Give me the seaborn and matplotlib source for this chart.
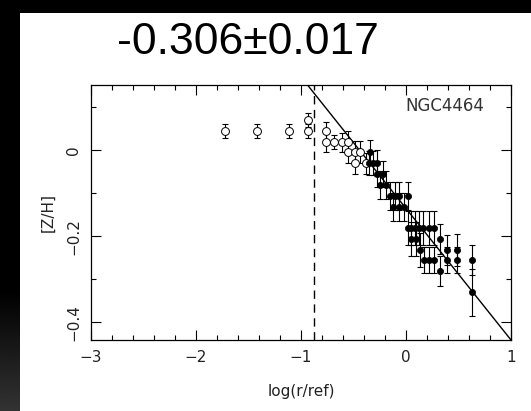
import numpy as np
import pandas as pd
import matplotlib
matplotlib.use("Agg")
import matplotlib.pyplot as plt
from matplotlib.ticker import MultipleLocator
import seaborn as sns

sns.set_style("ticks")
plt.rcParams['font.family'] = ['DejaVu Sans']

# ---- data ----
open_x = [-1.724, -1.419, -1.114, -0.936, -0.936,
          -0.765, -0.765, -0.681, -0.605, -0.548, -0.548,
          -0.486, -0.486, -0.438, -0.381]
open_y = [0.045, 0.045, 0.045, 0.070, 0.045,
          0.045, 0.019, 0.019, 0.019, 0.019, -0.004,
          -0.004, -0.030, -0.004, -0.030]
open_err = [0.016, 0.016, 0.016, 0.016, 0.016,
            0.022, 0.022, 0.016, 0.022, 0.025, 0.025,
            0.025, 0.025, 0.025, 0.025]

filled_x = [-0.343, -0.352, -0.314, -0.276, -0.279, -0.219, -0.248, -0.190,
            -0.152, -0.105, -0.067, 0.019, -0.124, -0.067, -0.019,
            0.019, 0.048, 0.086, 0.124, 0.162, 0.219, 0.267,
            0.048, 0.095, 0.324,
            0.133, 0.390, 0.486,
            0.171, 0.219, 0.267, 0.390, 0.486, 0.629,
            0.324, 0.629]
filled_y = [-0.004, -0.030, -0.030, -0.030, -0.055, -0.055, -0.081, -0.081,
            -0.106, -0.106, -0.106, -0.106, -0.132, -0.132, -0.132,
            -0.181, -0.181, -0.181, -0.181, -0.181, -0.181, -0.181,
            -0.206, -0.206, -0.206,
            -0.232, -0.232, -0.232,
            -0.255, -0.255, -0.255, -0.255, -0.255, -0.255,
            -0.281, -0.330]
filled_err = [0.028, 0.028, 0.028, 0.030, 0.030, 0.030, 0.032, 0.032,
              0.032, 0.032, 0.032, 0.032, 0.032, 0.032, 0.032,
              0.040, 0.040, 0.040, 0.040, 0.040, 0.040, 0.040,
              0.040, 0.040, 0.035,
              0.040, 0.035, 0.037,
              0.030, 0.030, 0.030, 0.030, 0.030, 0.035,
              0.035, 0.055]

slope = -0.306
intercept = -0.135
cut_x = -0.88
title_text = "-0.306\u00b10.017"
galaxy = "NGC4464"

df_open = pd.DataFrame({"x": open_x, "y": open_y, "e": open_err})
df_fill = pd.DataFrame({"x": filled_x, "y": filled_y, "e": filled_err})

W, H = 531, 411
fig = plt.figure(figsize=(W / 100, H / 100), dpi=100)
fig.patch.set_facecolor("white")

# black frame strips
bg = fig.add_axes([0, 0, 20 / W, 1])
grad = np.zeros((411, 1))
rows = np.arange(411)
grad[:, 0] = np.clip((rows - 290) / (411 - 290), 0, 1) * 0.2
bg.imshow(grad, cmap="gray", vmin=0, vmax=1, aspect="auto", origin="upper",
          extent=[0, 1, 0, 1])
bg.set_axis_off()
top = fig.add_axes([0, 1 - 13 / H, 1, 13 / H])
top.set_facecolor("black")
top.set_xticks([]); top.set_yticks([])
for s in top.spines.values():
    s.set_visible(False)

ax = fig.add_axes([91 / W, (H - 340) / H, 420 / W, 255 / H])

ax.errorbar(df_open.x, df_open.y, yerr=df_open.e, fmt="none", ecolor="black",
            elinewidth=0.8, capsize=2.5, capthick=0.8, zorder=2)
ax.errorbar(df_fill.x, df_fill.y, yerr=df_fill.e, fmt="none", ecolor="black",
            elinewidth=0.8, capsize=2.5, capthick=0.8, zorder=2)
sns.scatterplot(data=df_open, x="x", y="y", ax=ax, marker="o", s=32,
                facecolor="white", edgecolor="black", linewidth=0.7, zorder=3)
sns.scatterplot(data=df_fill, x="x", y="y", ax=ax, marker="o", s=20,
                color="black", edgecolor="black", linewidth=0.5, zorder=4)

xl = np.array([-3.0, 1.0])
ax.plot(xl, intercept + slope * xl, color="black", lw=1.0, zorder=1)
ax.axvline(cut_x, color="black", lw=1.0, ls=(0, (6, 4)), zorder=1)

ax.set_xlim(-3, 1)
ax.set_ylim(-0.441, 0.152)
ax.xaxis.set_major_locator(MultipleLocator(1))
ax.xaxis.set_minor_locator(MultipleLocator(0.2))
ax.yaxis.set_major_locator(MultipleLocator(0.2))
ax.yaxis.set_minor_locator(MultipleLocator(0.1))
ax.tick_params(which="both", direction="in", top=True, right=True,
               color="black", width=0.8)
ax.tick_params(which="major", length=7, labelsize=11, labelcolor="#222222", pad=7)
ax.tick_params(which="minor", length=3.5)
ax.yaxis.set_major_formatter(matplotlib.ticker.FuncFormatter(
    lambda v, p: ("\u22120.%d" % round(abs(v) * 10) if v < -1e-9 else "0")))
ax.xaxis.set_major_formatter(matplotlib.ticker.FuncFormatter(
    lambda v, p: ("\u2212%d" % round(abs(v)) if v < -1e-9 else "%d" % round(v))))
for lab in ax.get_yticklabels():
    lab.set_rotation(90)
    lab.set_va("center")
for s in ax.spines.values():
    s.set_linewidth(0.9)
    s.set_color("black")

ax.set_xlabel("log(r/ref)", fontsize=11, color="#222222", labelpad=14)
ax.set_ylabel("[Z/H]", fontsize=11, color="#222222", labelpad=8)
ax.text(0.936, 0.918, galaxy, transform=ax.transAxes, ha="right", va="center",
        fontsize=12, color="#333333")

fig.text(248 / W, 1 - 43 / H, title_text, ha="center", va="center",
         fontsize=32, family="Liberation Sans", color="black")

fig.savefig("out.png", dpi=100, facecolor=fig.get_facecolor())
